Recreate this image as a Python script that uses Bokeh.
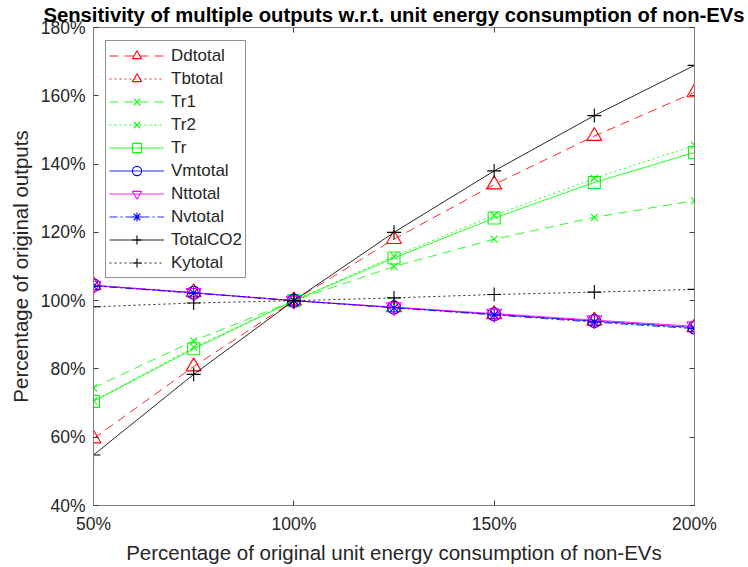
from bokeh.plotting import figure
from bokeh.models import FixedTicker, PrintfTickFormatter, LinearAxis, Legend, LegendItem, Range1d
from bokeh.embed import file_html
from bokeh.resources import INLINE

x = [50, 75, 100, 125, 150, 175, 200]
ddtotal = [59.6, 80.7, 100, 118.0, 134.0, 148.2, 161.0]
tbtotal = [104.5, 102.4, 100, 98.0, 96.0, 94.1, 92.2]
tr1 = [74.5, 88.2, 100, 110.0, 118.0, 124.4, 129.3]
tr2 = [70.6, 86.3, 100, 113.0, 125.0, 135.8, 145.5]
tr = [70.5, 85.9, 100, 112.5, 124.2, 134.6, 143.4]
vmtotal = [104.5, 102.3, 100, 98.0, 96.0, 94.0, 92.1]
nttotal = [104.4, 102.3, 100, 98.1, 96.2, 94.3, 92.5]
nvtotal = [104.3, 102.2, 100, 97.9, 95.8, 93.7, 91.8]
totalco2 = [54.8, 78.4, 100, 120.0, 138.0, 154.2, 168.9]
kytotal = [98.2, 99.3, 100, 100.8, 101.8, 102.5, 103.3]

x_ticks = [50, 100, 150, 200]
y_ticks = [40, 60, 80, 100, 120, 140, 160, 180]

FONT = "Liberation Sans"

p = figure(width=748, height=567, output_backend="svg", toolbar_location=None,
           x_range=Range1d(50, 200), y_range=Range1d(40, 180),
           min_border_left=93, min_border_right=54, min_border_top=27, min_border_bottom=62)
p.title.text = "Sensitivity of multiple outputs w.r.t. unit energy consumption of non-EVs"
p.title.text_font = FONT
p.title.text_font_size = "20.3px"
p.title.align = "center"
p.title.vertical_align = "top"
p.title.text_font_style = "bold"
p.title.text_color = "#000000"
p.title.standoff = 0
p.title.offset = 0
p.xgrid.visible = False
p.ygrid.visible = False
p.outline_line_color = "#808080"
p.background_fill_color = "white"
p.border_fill_color = "white"

for ax in (p.xaxis[0], p.yaxis[0]):
    ax.axis_line_color = "#808080"
    ax.major_tick_in = 5
    ax.major_tick_out = 0
    ax.minor_tick_line_color = None
    ax.major_tick_line_color = "#404040"
    ax.major_label_text_font = FONT
    ax.major_label_text_font_size = "17.5px"
    ax.major_label_text_color = "#262626"
    ax.major_label_standoff = 8
    ax.axis_label_text_font = FONT
    ax.axis_label_text_font_size = "20.5px"
    ax.axis_label_text_font_style = "normal"
    ax.axis_label_text_color = "#262626"
    ax.formatter = PrintfTickFormatter(format="%d%%")

p.xaxis[0].ticker = FixedTicker(ticks=x_ticks)
p.yaxis[0].ticker = FixedTicker(ticks=y_ticks)
p.xaxis[0].axis_label = "Percentage of original unit energy consumption of non-EVs"
p.yaxis[0].axis_label = "Percentage of original outputs"
p.xaxis[0].axis_label_standoff = 4
p.yaxis[0].axis_label_standoff = 6

series = [
    ("Ddtotal", ddtotal, "#FF0000", "dashed", "triangle"),
    ("Tbtotal", tbtotal, "#FF0000", "dotted", "triangle"),
    ("Tr1", tr1, "#00FF00", "dashed", "x"),
    ("Tr2", tr2, "#00FF00", "dotted", "x"),
    ("Tr", tr, "#00FF00", "solid", "square"),
    ("Vmtotal", vmtotal, "#0000FF", "solid", "circle"),
    ("Nttotal", nttotal, "#FF00FF", "solid", "inverted_triangle"),
    ("Nvtotal", nvtotal, "#0000FF", "dashdot", "asterisk"),
    ("TotalCO2", totalco2, "#000000", "solid", "cross"),
    ("Kytotal", kytotal, "#000000", "dotted", "cross"),
]
dash_map = {"solid": "solid", "dashed": "9 6", "dotted": "2 3", "dashdot": "8 3 2 3"}
size_map = {"triangle": 15, "x": 10, "square": 12, "circle": 13, "inverted_triangle": 15,
            "asterisk": 12, "cross": 14}

items = []
for name, ys, col, dash, marker in series:
    l = p.line(x, ys, line_color=col, line_width=1, line_dash=dash_map[dash], line_alpha=0.85)
    s = p.scatter(x, ys, marker=marker, size=size_map[marker], line_color=col,
                  fill_color=None, line_width=1.1)
    items.append(LegendItem(label=name, renderers=[l, s]))

legend = Legend(items=items, location=(12, 227),
                label_text_font=FONT, label_text_font_size="17px",
                label_text_color="#262626",
                glyph_width=55, glyph_height=23, label_height=23,
                spacing=0, padding=3, label_standoff=7,
                border_line_color="#262626", border_line_width=1,
                background_fill_alpha=1)
p.add_layout(legend, "center")

# box axes (MATLAB style ticks on top/right)
r_ax = LinearAxis(ticker=FixedTicker(ticks=y_ticks), major_label_text_font_size="0px",
                  major_label_standoff=0,
                  major_tick_in=5, major_tick_out=0, minor_tick_line_color=None,
                  axis_line_color="#808080", major_tick_line_color="#404040")
t_ax = LinearAxis(ticker=FixedTicker(ticks=x_ticks), major_label_text_font_size="0px",
                  major_label_standoff=0,
                  major_tick_in=5, major_tick_out=0, minor_tick_line_color=None,
                  axis_line_color="#808080", major_tick_line_color="#404040")
p.add_layout(r_ax, "right")
p.add_layout(t_ax, "above")

open("out.html", "w").write(file_html(p, INLINE))
